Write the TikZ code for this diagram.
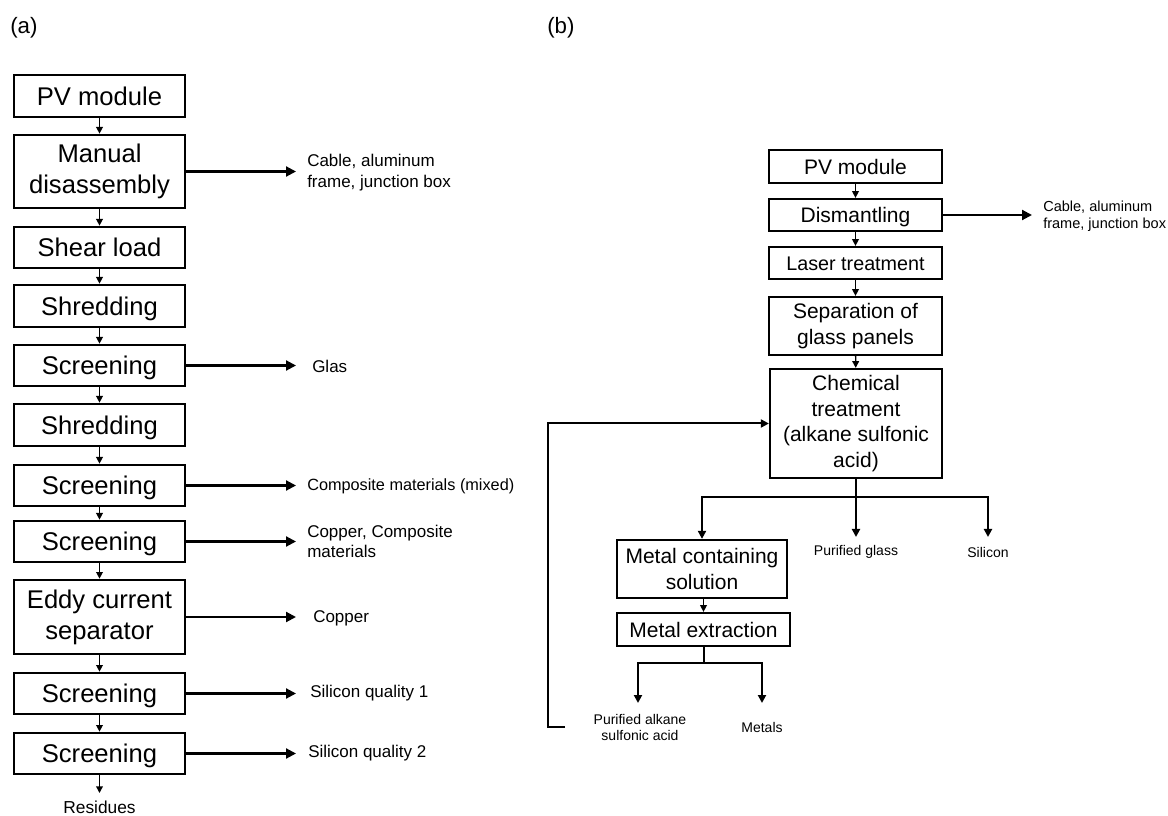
\documentclass[tikz,border=0pt]{standalone}
\usepackage{fontspec}
\setmainfont{Liberation Sans}
\usetikzlibrary{arrows.meta}
\tikzset{
 boxa/.style={draw, line width=2pt, inner sep=0pt, align=center, font=\fontsize{19.2}{23.25}\selectfont},
 onea/.style={text height=13.75pt, text depth=0pt},
 boxb/.style={draw, line width=1.7pt, inner sep=0pt, align=center, font=\fontsize{15.75}{19.1}\selectfont},
 oneb/.style={text height=11.3pt, text depth=0pt},
 sz/.style 2 args={minimum width=#1*0.75pt, minimum height=#2*0.75pt},
 lbla/.style={inner sep=0pt, anchor=west, align=left, font=\fontsize{12.75}{15.5}\selectfont},
 lblb/.style={inner sep=0pt, align=center, font=\fontsize{10.5}{12}\selectfont},
 downarr/.style={line width=1pt, -{Triangle[length=5pt,width=5pt]}},
 sidearr/.style={line width=1.6pt, -{Triangle[length=7.5pt,width=7.5pt]}},
 conn/.style={line width=1.5pt},
 tip/.style={-{Triangle[length=6pt,width=6pt]}},
 panel/.style={inner sep=0pt, anchor=west, font=\fontsize{16.7}{20}\selectfont},
}
\begin{document}
\begin{tikzpicture}[x=0.75pt,y=-0.75pt]
\useasboundingbox (0,0) rectangle (1168,816);
\node[panel] (pa) at (10,28) {(a)};
\node[panel] (pb) at (547,28) {(b)};

% ---------- (a) ----------
\node[boxa,onea,sz={171}{42}] (a1) at (99.5,96) {PV module};
\node[boxa,sz={171}{73}] (a2) at (99.5,171.5) {Manual\\disassembly};
\node[boxa,onea,sz={171}{41}] (a3) at (99.5,247.5) {Shear load};
\node[boxa,onea,sz={171}{42}] (a4) at (99.5,306) {Shredding};
\node[boxa,onea,sz={171}{41}] (a5) at (99.5,365.5) {Screening};
\node[boxa,onea,sz={171}{42}] (a6) at (99.5,425) {Shredding};
\node[boxa,onea,sz={171}{41}] (a7) at (99.5,485.5) {Screening};
\node[boxa,onea,sz={171}{41}] (a8) at (99.5,541.5) {Screening};
\node[boxa,sz={171}{74}] (a9) at (99.5,617) {Eddy current\\separator};
\node[boxa,onea,sz={171}{41}] (a10) at (99.5,693.5) {Screening};
\node[boxa,onea,sz={171}{41}] (a11) at (99.5,753.5) {Screening};
\coordinate (resTip) at (99.5,793);
\node[inner sep=0pt, font=\fontsize{13}{15}\selectfont] (res) at (99.5,807) {Residues};

\foreach \i/\j in {a1/a2,a2/a3,a3/a4,a4/a5,a5/a6,a6/a7,a7/a8,a8/a9,a9/a10,a10/a11}
  \draw[downarr] (\i) -- (\j);
\draw[downarr] (a11) -- (resTip);

\coordinate (tA) at (296,0);
\draw[sidearr] (a2.east) -- (a2.east -| tA);
\draw[sidearr] (a5.east) -- (a5.east -| tA);
\draw[sidearr] (a7.east) -- (a7.east -| tA);
\draw[sidearr] (a8.east) -- (a8.east -| tA);
\draw[sidearr] (a9.east) -- (a9.east -| tA);
\draw[sidearr] (a10.east) -- (a10.east -| tA);
\draw[sidearr] (a11.east) -- (a11.east -| tA);

\node[lbla] (l2) at (307,172.5) {Cable, aluminum\\frame, junction box};
\node[lbla] (l5) at (312,366) {Glas};
\node[lbla,font=\fontsize{12.2}{15}\selectfont] (l7) at (307,486) {Composite materials (mixed)};
\node[lbla] (l8) at (307,541.5) {Copper, Composite\\materials};
\node[lbla] (l9) at (313,618) {Copper};
\node[lbla] (l10) at (310,693) {Silicon quality 1};
\node[lbla] (l11) at (308,753) {Silicon quality 2};

% ---------- (b) ----------
\node[boxb,oneb,sz={173}{33}] (b1) at (855.5,166.5) {PV module};
\node[boxb,oneb,sz={173}{32}] (b2) at (855.5,215) {Dismantling};
\node[boxb,sz={173}{32},font=\fontsize{14.8}{18}\selectfont,text height=10.6pt,text depth=0pt] (b3) at (855.5,263) {Laser treatment};
\node[boxb,sz={173}{58}] (b4) at (855.5,326) {Separation of\\glass panels};
\node[boxb,sz={172}{109}] (b5) at (856,423.5) {Chemical\\treatment\\(alkane sulfonic\\acid)};
\node[boxb,sz={170}{58}] (b6) at (702,569) {Metal containing\\solution};
\node[boxb,oneb,sz={173}{33}] (b7) at (703.5,629.5) {Metal extraction};

\draw[downarr] (b1) -- (b2);
\draw[downarr] (b2) -- (b3);
\draw[downarr] (b3) -- (b4);
\draw[downarr] (b4) -- (b5);
\draw[downarr] (b6.south -| b7.north) -- (b7.north);

\coordinate (tB) at (1032,0);
\draw[sidearr] (b2.east) -- (b2.east -| tB);
\node[inner sep=0pt, anchor=west, align=left, font=\fontsize{10.9}{12.75}\selectfont] (lb2) at (1043,216.5) {Cable, aluminum\\frame, junction box};

% branch from chemical treatment
\path (b5.south) ++(0,18) coordinate (bj);
\coordinate (pgTip) at (856,537);
\coordinate (siTip) at (988,537);
\draw[conn] (b5.south) -- (bj);
\draw[conn,tip] (bj) -| (b6.north);
\draw[conn,tip] (bj) -- (pgTip);
\draw[conn,tip] (bj) -| (siTip);
\node[lblb] (pg) at (856,552) {Purified glass};
\node[lblb] (si) at (988,552) {Silicon};

% branch from metal extraction
\path (b7.south) ++(0,16) coordinate (mj);
\coordinate (paTip) at (638,703);
\coordinate (meTip) at (762,703);
\draw[conn] (b7.south) -- (mj);
\draw[conn,tip] (mj) -| (paTip);
\draw[conn,tip] (mj) -| (meTip);
\node[lblb] (pal) at (640,727) {Purified alkane\\sulfonic acid};
\node[lblb] (met) at (762,727) {Metals};

% recycle loop
\coordinate (fb) at (565,727);
\draw[conn,tip] (fb) -- ++(-17,0) |- (b5.west);
\end{tikzpicture}
\end{document}
